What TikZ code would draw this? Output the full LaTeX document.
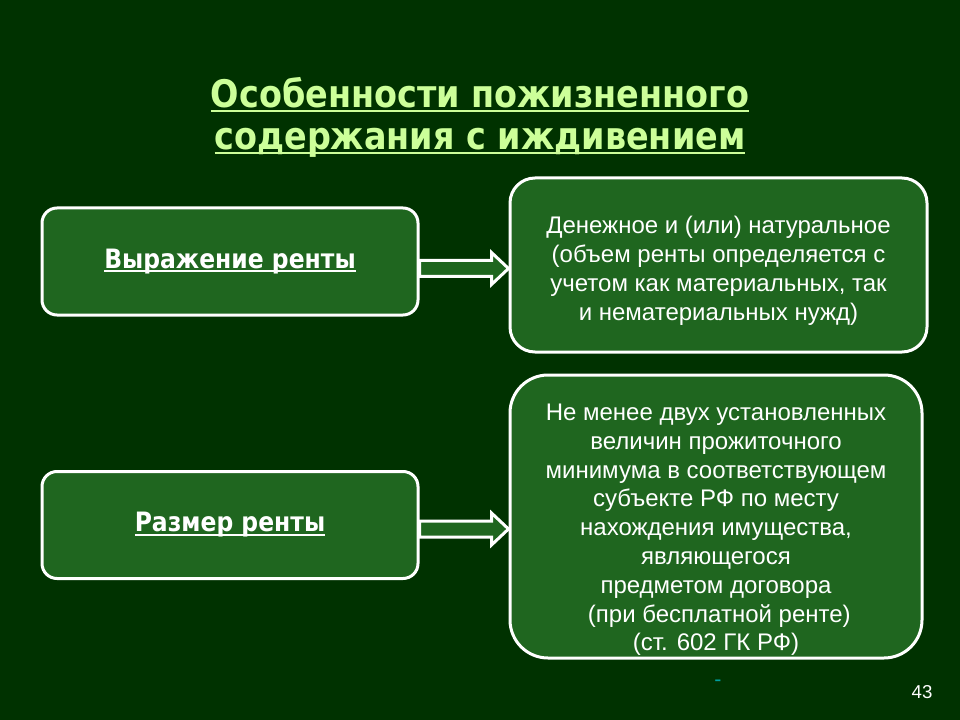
\documentclass[tikz,border=0pt]{standalone}
\usepackage{fontspec}
\setmainfont{DejaVu Sans}[FakeStretch=0.88]
\newfontfamily\arialfont{Liberation Sans}
\usetikzlibrary{calc}

\definecolor{slidebg}{RGB}{0,50,0}
\definecolor{boxgreen}{RGB}{31,102,31}
\definecolor{titlegreen}{RGB}{204,255,153}
\definecolor{dashteal}{RGB}{0,160,160}

\newdimen\px
\px=0.75pt
\newcommand\ulin[1]{\setbox0\hbox{#1}\rlap{\rule[-0.14em]{\wd0}{0.07em}}\box0}

\begin{document}
\begin{tikzpicture}[x=0.75pt,y=-0.75pt,
            keybox/.style={draw=white, line width=3\px, fill=boxgreen,
                rounded corners=15\px, minimum width=376\px, minimum height=107\px,
                text=white, font=\fontsize{20}{24}\selectfont\bfseries},
            infobox/.style={draw=white, line width=3\px, fill=boxgreen,
                text=white, align=center, inner sep=0pt,
                font=\arialfont\fontsize{18}{21.6}\selectfont},
            blockarrow/.style={draw=white, line width=3\px, fill=boxgreen, line join=miter}]
            \useasboundingbox (0,0) rectangle (960,720);
            \fill[slidebg] (0,0) rectangle (960,720);

            % title
            \node[align=center, text=titlegreen,
                font=\fontsize{28.5}{31.5}\selectfont\bfseries] (title) at (480,117)
                {\ulin{Особенности пожизненного}\\ \ulin{содержания с иждивением}};

            % left column
            \node[keybox] (vyr) at (230,261.5) {\ulin{Выражение ренты}};
            \node[keybox] (razm) at (230,525) {\ulin{Размер ренты}};

            % right column
            \node[infobox, rounded corners=25\px, minimum width=417\px,
                minimum height=174\px] (den) at (718.5,265)
                {\rule{0pt}{0pt}\\[0pt]
                 Денежное и (или) натуральное\\ (объем ренты определяется с\\
                 учетом как материальных, так\\ и нематериальных нужд)};
            \node[infobox, rounded corners=38\px, minimum width=412\px,
                minimum height=283\px] (nemen) at (716,516.5)
                {\rule{0pt}{0pt}\\[11pt]
                 Не менее двух установленных\\ величин прожиточного\\
                 минимума в соответствующем\\ субъекте РФ по месту\\
                 нахождения имущества,\\ являющегося\\ предметом договора\\
                 \ (при бесплатной ренте)\\ (ст. 602 ГК РФ)};

            % arrows
            \coordinate (a1s) at ($(vyr.east)+(0,7)$);
            \coordinate (a1e) at (a1s -| den.west);
            \draw[blockarrow] ($(a1s)+(0,-8)$) -- ($(a1e)+(-17,-8)$) -- ($(a1e)+(-17,-16)$)
                -- (a1e) -- ($(a1e)+(-17,16)$) -- ($(a1e)+(-17,8)$) -- ($(a1s)+(0,8)$) -- cycle;
            \coordinate (a2s) at ($(razm.east)+(0,4)$);
            \coordinate (a2e) at (a2s -| nemen.west);
            \draw[blockarrow] ($(a2s)+(0,-8)$) -- ($(a2e)+(-17,-8)$) -- ($(a2e)+(-17,-16)$)
                -- (a2e) -- ($(a2e)+(-17,16)$) -- ($(a2e)+(-17,8)$) -- ($(a2s)+(0,8)$) -- cycle;

            \node[text=dashteal, font=\arialfont\fontsize{16}{16}\selectfont] (dash) at (718,683) {-};
            \node[text=white!90, font=\arialfont\fontsize{14}{14}\selectfont] (num) at (922,692) {43};
        \end{tikzpicture}
\end{document}
